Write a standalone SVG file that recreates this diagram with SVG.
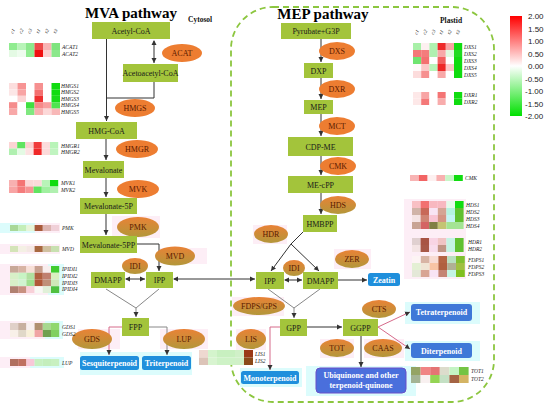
<svg xmlns="http://www.w3.org/2000/svg" width="550" height="412" viewBox="0 0 550 412">
<defs>
<style>
.box{fill:#a3c43b;}
.bt{font-family:"Liberation Serif",serif;font-size:8px;fill:#1a1a1a;text-anchor:middle;}
.en{fill:#ed7d31;}
.eo{fill:url(#olive);}
.et{font-family:"Liberation Serif",serif;font-size:8px;fill:#5a1a00;text-anchor:middle;}
.blue{fill:#1f8fdc;}
.blue2{fill:#3f78d8;}
.wt{font-family:"Liberation Serif",serif;font-size:8px;font-weight:bold;fill:#ffffff;text-anchor:middle;}
.ln{stroke:#333;stroke-width:1;fill:none;}
.lg{stroke:#888;stroke-width:1;fill:none;}
.lp{stroke:#d66a8a;stroke-width:1;fill:none;}
.hl{font-family:"Liberation Serif",serif;font-size:5.5px;font-style:italic;fill:#222;}
.pk{fill:#fdeef6;}
.cy{fill:#dcfcfc;}
.title{font-family:"Liberation Serif",serif;font-size:15px;font-weight:bold;fill:#000;text-anchor:middle;}
.sub{font-family:"Liberation Serif",serif;font-size:7.5px;font-weight:bold;fill:#111;}
.sc{font-family:"Liberation Sans",Arial,sans-serif;font-size:8px;fill:#222;}
.ch{font-family:"Liberation Serif",serif;font-size:5px;font-style:italic;fill:#222;}
</style>
<linearGradient id="olive" x1="0" y1="0" x2="0" y2="1">
<stop offset="0" stop-color="#e98236"/>
<stop offset="1" stop-color="#b3973a"/>
</linearGradient>
<linearGradient id="scale" x1="0" y1="0" x2="0" y2="1">
<stop offset="0" stop-color="#ff0000"/>
<stop offset="0.5" stop-color="#ffffff"/>
<stop offset="1" stop-color="#00e000"/>
</linearGradient>
<marker id="ah" markerWidth="6" markerHeight="6" refX="5" refY="3" orient="auto" markerUnits="userSpaceOnUse">
<path d="M0,0.5 L5,3 L0,5.5 Z" fill="#333"/>
</marker>
<marker id="as" markerWidth="6" markerHeight="6" refX="1" refY="3" orient="auto" markerUnits="userSpaceOnUse">
<path d="M5,0.5 L0,3 L5,5.5 Z" fill="#333"/>
</marker>
</defs>
<rect width="550" height="412" fill="#ffffff"/>

<!-- background highlights -->
<g id="highlights">
<rect class="pk" x="112" y="216" width="48" height="22"/>
<rect class="pk" x="160" y="248" width="47" height="16"/>
<rect class="pk" x="78" y="329" width="42" height="20"/>
<rect class="pk" x="160" y="329" width="48" height="20"/>
<rect class="cy" x="80" y="352" width="112" height="23"/>
<rect class="pk" x="253" y="225" width="34" height="19"/>
<rect class="pk" x="334" y="249" width="37" height="20"/>
<rect class="pk" x="232" y="297" width="52" height="19"/>
<rect class="pk" x="236" y="329" width="30" height="21"/>
<rect class="cy" x="240" y="368" width="62" height="19"/>
<rect class="cy" x="306" y="366" width="110" height="30"/>
<rect class="pk" x="320" y="339" width="34" height="19"/>
<rect class="pk" x="364" y="339" width="40" height="19"/>
<rect class="cy" x="405" y="302" width="75" height="22"/>
<rect class="cy" x="405" y="341" width="75" height="20"/>
<rect class="pk" x="404" y="199" width="62" height="80"/>
<rect class="cy" x="0" y="223" width="35" height="10"/>
<rect class="pk" x="35" y="223" width="25" height="10"/>
<rect class="pk" x="0" y="244" width="60" height="10"/>
<rect class="pk" x="0" y="264" width="60" height="31"/>
<rect class="cy" x="48" y="264" width="16" height="31"/>
<rect class="pk" x="0" y="321" width="60" height="18"/>
<rect class="cy" x="45" y="321" width="18" height="18"/>
<rect class="pk" x="0" y="357" width="60" height="11"/>
<rect class="cy" x="30" y="357" width="34" height="11"/>
</g>

<!-- plastid boundary -->
<rect id="plastid" x="231" y="7" width="263" height="395" rx="42" ry="42" fill="none" stroke="#8cc63f" stroke-width="1.8" stroke-dasharray="6,4"/>

<!-- titles -->
<text class="title" x="131" y="18">MVA pathway</text>
<text class="sub" x="188" y="22">Cytosol</text>
<text class="title" x="323" y="19">MEP pathway</text>
<text class="sub" x="440" y="23">Plastid</text>

<!-- connectors -->
<g id="connectors">
<line class="ln" x1="106.5" y1="39" x2="106.5" y2="121" marker-end="url(#ah)"/>
<line class="ln" x1="154" y1="41" x2="154" y2="63" marker-end="url(#ah)" marker-start="url(#as)"/>
<polyline class="ln" points="154,82 154,98 106.5,98"/>
<line class="ln" x1="106" y1="139" x2="106" y2="160" marker-end="url(#ah)"/>
<line class="ln" x1="106" y1="178" x2="106" y2="197" marker-end="url(#ah)"/>
<line class="ln" x1="106" y1="214" x2="106" y2="235" marker-end="url(#ah)"/>
<polyline class="ln" points="137,244 159,244 159,271" marker-end="url(#ah)"/>
<line class="ln" x1="126" y1="279" x2="145" y2="279" marker-end="url(#ah)" marker-start="url(#as)"/>
<line class="ln" x1="174" y1="279" x2="255" y2="279" marker-end="url(#ah)" marker-start="url(#as)"/>
<polyline class="lg" points="106,289 136,308 159,289"/>
<line class="lg" x1="136" y1="308" x2="136" y2="317" marker-end="url(#ah)"/>
<polyline class="lp" points="122,327 109,327 109,355" marker-end="url(#ah)"/>
<polyline class="lg" points="149,327 167,327 167,355" marker-end="url(#ah)"/>

<line class="ln" x1="321" y1="39" x2="321" y2="62" marker-end="url(#ah)"/>
<line class="ln" x1="321" y1="78" x2="321" y2="99" marker-end="url(#ah)"/>
<line class="ln" x1="321" y1="114" x2="321" y2="136" marker-end="url(#ah)"/>
<line class="ln" x1="321" y1="156" x2="321" y2="175" marker-end="url(#ah)"/>
<line class="ln" x1="321" y1="193" x2="321" y2="214" marker-end="url(#ah)"/>
<polyline class="ln" points="303,232 291,244"/>
<line class="ln" x1="291" y1="244" x2="271" y2="271" marker-end="url(#ah)"/>
<line class="ln" x1="291" y1="244" x2="319" y2="271" marker-end="url(#ah)"/>
<line class="ln" x1="285" y1="280" x2="302" y2="280" marker-end="url(#ah)" marker-start="url(#as)"/>
<line class="ln" x1="338" y1="280" x2="367" y2="280" marker-end="url(#ah)"/>
<polyline class="lg" points="268,289 294,308 320,289"/>
<line class="lg" x1="294" y1="308" x2="294" y2="318" marker-end="url(#ah)"/>
<line class="ln" x1="307" y1="327" x2="342" y2="327" marker-end="url(#ah)"/>
<polyline class="lp" points="280,327 270,327 270,370" marker-end="url(#ah)"/>
<line class="ln" x1="361" y1="336" x2="361" y2="367" marker-end="url(#ah)"/>
<line class="lp" x1="378" y1="327" x2="410" y2="312" marker-end="url(#ah)"/>
<line class="lp" x1="378" y1="327" x2="410" y2="349" marker-end="url(#ah)"/>
</g>

<!-- nodes: MVA -->
<g id="acetylcoa"><rect class="box" x="92" y="22" width="78" height="17"/><text class="bt" x="131" y="33.5">Acetyl-CoA</text></g>
<g id="acetoacetylcoa"><rect class="box" x="123" y="64" width="55" height="18"/><text class="bt" x="150.5" y="76">Acetoacetyl-CoA</text></g>
<g id="acat"><ellipse class="en" cx="182" cy="53" rx="20" ry="9"/><text class="et" x="182" y="56">ACAT</text></g>
<g id="hmgs"><ellipse class="en" cx="135" cy="108" rx="20" ry="9"/><text class="et" x="135" y="111">HMGS</text></g>
<g id="hmgcoa"><rect class="box" x="76" y="122" width="61" height="17"/><text class="bt" x="106.5" y="133.5">HMG-CoA</text></g>
<g id="hmgr"><ellipse class="en" cx="137" cy="149" rx="21" ry="9"/><text class="et" x="137" y="152">HMGR</text></g>
<g id="mevalonate"><rect class="box" x="83" y="161" width="41" height="17"/><text class="bt" x="103.5" y="172.5">Mevalonate</text></g>
<g id="mvk"><ellipse class="en" cx="138" cy="189" rx="21" ry="9"/><text class="et" x="138" y="192">MVK</text></g>
<g id="mev5p"><rect class="box" x="80" y="198" width="57" height="16"/><text class="bt" x="108.5" y="209">Mevalonate-5P</text></g>
<g id="pmk"><ellipse class="eo" cx="138" cy="227" rx="21" ry="10"/><text class="et" x="138" y="230">PMK</text></g>
<g id="mev5pp"><rect class="box" x="80" y="236" width="57" height="17"/><text class="bt" x="108.5" y="247.5">Mevalonate-5PP</text></g>
<g id="mvd"><ellipse class="eo" cx="175" cy="256" rx="20" ry="9.5"/><text class="et" x="175" y="259">MVD</text></g>
<g id="idi1"><ellipse class="eo" cx="135" cy="266" rx="13" ry="8"/><text class="et" x="135" y="269">IDI</text></g>
<g id="dmapp1"><rect class="box" x="91" y="272" width="34" height="16"/><text class="bt" x="108" y="283">DMAPP</text></g>
<g id="ipp1"><rect class="box" x="146" y="272" width="27" height="16"/><text class="bt" x="159.5" y="283">IPP</text></g>
<g id="fpp"><rect class="box" x="122" y="318" width="27" height="18"/><text class="bt" x="135.5" y="330">FPP</text></g>
<g id="gds"><ellipse class="eo" cx="92" cy="339" rx="20" ry="10"/><text class="et" x="92" y="342">GDS</text></g>
<g id="lup"><ellipse class="eo" cx="184" cy="339" rx="21" ry="10"/><text class="et" x="184" y="342">LUP</text></g>
<g id="sesqui"><rect class="blue" x="80" y="356" width="59" height="14" rx="2.5"/><text class="wt" x="109.5" y="366">Sesquiterpenoid</text></g>
<g id="triter"><rect class="blue" x="142" y="356" width="49" height="14" rx="2.5"/><text class="wt" x="166.5" y="366">Triterpenoid</text></g>

<!-- nodes: MEP -->
<g id="pyr"><rect class="box" x="281" y="23" width="70" height="16"/><text class="bt" x="316" y="34">Pyrubate+G3P</text></g>
<g id="dxs"><ellipse class="en" cx="337" cy="51" rx="18" ry="9"/><text class="et" x="337" y="54">DXS</text></g>
<g id="dxp"><rect class="box" x="304" y="63" width="29" height="15"/><text class="bt" x="318.5" y="73.5">DXP</text></g>
<g id="dxr"><ellipse class="en" cx="337" cy="89" rx="18" ry="9"/><text class="et" x="337" y="92">DXR</text></g>
<g id="mep"><rect class="box" x="304" y="100" width="29" height="14"/><text class="bt" x="318.5" y="110">MEP</text></g>
<g id="mct"><ellipse class="en" cx="337" cy="126" rx="18" ry="9"/><text class="et" x="337" y="129">MCT</text></g>
<g id="cdpme"><rect class="box" x="288" y="137" width="65" height="19"/><text class="bt" x="320.5" y="149.5">CDP-ME</text></g>
<g id="cmk"><ellipse class="en" cx="338" cy="166" rx="18" ry="9"/><text class="et" x="338" y="169">CMK</text></g>
<g id="mecpp"><rect class="box" x="288" y="176" width="65" height="17"/><text class="bt" x="320.5" y="187.5">ME-cPP</text></g>
<g id="hds"><ellipse class="eo" cx="338" cy="205" rx="18" ry="9"/><text class="et" x="338" y="208">HDS</text></g>
<g id="hmbpp"><rect class="box" x="303" y="215" width="34" height="17"/><text class="bt" x="320" y="226.5">HMBPP</text></g>
<g id="hdr"><ellipse class="eo" cx="271" cy="234" rx="17" ry="9"/><text class="et" x="271" y="237">HDR</text></g>
<g id="zer"><ellipse class="eo" cx="352" cy="259" rx="17" ry="9"/><text class="et" x="352" y="262">ZER</text></g>
<g id="idi2"><ellipse class="eo" cx="294" cy="268" rx="11" ry="8"/><text class="et" x="294" y="271">IDI</text></g>
<g id="ipp2"><rect class="box" x="256" y="272" width="28" height="17"/><text class="bt" x="270" y="283.5">IPP</text></g>
<g id="dmapp2"><rect class="box" x="303" y="272" width="35" height="17"/><text class="bt" x="320.5" y="283.5">DMAPP</text></g>
<g id="zeatin"><rect class="blue" x="368" y="273" width="32" height="13" rx="2.5"/><text class="wt" x="384" y="282.5">Zeatin</text></g>
<g id="fdps"><ellipse class="eo" cx="259" cy="306" rx="26" ry="9"/><text class="et" x="259" y="309">FDPS/GPS</text></g>
<g id="gpp"><rect class="box" x="280" y="319" width="27" height="17"/><text class="bt" x="293.5" y="330.5">GPP</text></g>
<g id="ggpp"><rect class="box" x="343" y="319" width="35" height="17"/><text class="bt" x="360.5" y="330.5">GGPP</text></g>
<g id="cts"><ellipse class="eo" cx="379" cy="309" rx="17" ry="9"/><text class="et" x="379" y="312">CTS</text></g>
<g id="lis"><ellipse class="eo" cx="251" cy="339" rx="15" ry="10"/><text class="et" x="251" y="342">LIS</text></g>
<g id="tot"><ellipse class="eo" cx="337" cy="348" rx="17" ry="9"/><text class="et" x="337" y="351">TOT</text></g>
<g id="caas"><ellipse class="eo" cx="383" cy="348" rx="19" ry="9"/><text class="et" x="383" y="351">CAAS</text></g>
<g id="mono"><rect class="blue" x="241" y="371" width="58" height="13" rx="2.5"/><text class="wt" x="270" y="380.5">Monoterpenoid</text></g>
<g id="ubiq"><rect x="316" y="368" width="90" height="25" rx="4" fill="#4a6fdc" stroke="#6a4fc8" stroke-width="1"/><text class="wt" x="361" y="378">Ubiquinone and other</text><text class="wt" x="361" y="388">terpenoid-quinone</text></g>
<g id="tetra"><rect class="blue2" x="411" y="304" width="61" height="17" rx="3"/><text class="wt" x="441.5" y="315">Tetraterpenoid</text></g>
<g id="diter"><rect class="blue2" x="411" y="343" width="61" height="15" rx="3"/><text class="wt" x="441.5" y="353.5">Diterpenoid</text></g>

<!-- left heatmaps -->
<g id="hm-left">
<g transform="translate(13,34) rotate(-60)"><text class="ch">c1</text></g>
<g transform="translate(21.5,34) rotate(-60)"><text class="ch">c2</text></g>
<g transform="translate(30,34) rotate(-60)"><text class="ch">c3</text></g>
<g transform="translate(38.5,34) rotate(-60)"><text class="ch">s1</text></g>
<g transform="translate(47,34) rotate(-60)"><text class="ch">s2</text></g>
<g transform="translate(55.5,34) rotate(-60)"><text class="ch">s3</text></g>
<!-- ACAT -->
<rect x="9" y="43" width="8.5" height="7" fill="#90ec90"/><rect x="17.5" y="43" width="8.5" height="7" fill="#b8f4b8"/><rect x="26" y="43" width="8.5" height="7" fill="#8ce88c"/><rect x="34.5" y="43" width="8.5" height="7" fill="#ec4a4a"/><rect x="43" y="43" width="8.5" height="7" fill="#f8b4b4"/><rect x="51.5" y="43" width="8.5" height="7" fill="#7ee47e"/>
<rect x="9" y="50" width="8.5" height="7" fill="#e4fae4"/><rect x="17.5" y="50" width="8.5" height="7" fill="#eefcee"/><rect x="26" y="50" width="8.5" height="7" fill="#90ec90"/><rect x="34.5" y="50" width="8.5" height="7" fill="#f01010"/><rect x="43" y="50" width="8.5" height="7" fill="#fcd0d0"/><rect x="51.5" y="50" width="8.5" height="7" fill="#8ce88c"/>
<text class="hl" x="62" y="48.5">ACAT1</text><text class="hl" x="62" y="55.5">ACAT2</text>
<!-- HMGS -->
<rect x="9" y="83" width="8.5" height="6.4" fill="#fcdede"/><rect x="17.5" y="83" width="8.5" height="6.4" fill="#f79494"/><rect x="26" y="83" width="8.5" height="6.4" fill="#ffffff"/><rect x="34.5" y="83" width="8.5" height="6.4" fill="#f69090"/><rect x="43" y="83" width="8.5" height="6.4" fill="#ffffff"/><rect x="51.5" y="83" width="8.5" height="6.4" fill="#10dc10"/>
<rect x="9" y="89.4" width="8.5" height="6.4" fill="#fce6e6"/><rect x="17.5" y="89.4" width="8.5" height="6.4" fill="#f8a4a4"/><rect x="26" y="89.4" width="8.5" height="6.4" fill="#ffffff"/><rect x="34.5" y="89.4" width="8.5" height="6.4" fill="#f47070"/><rect x="43" y="89.4" width="8.5" height="6.4" fill="#ffffff"/><rect x="51.5" y="89.4" width="8.5" height="6.4" fill="#10dc10"/>
<rect x="9" y="95.8" width="8.5" height="6.4" fill="#ffffff"/><rect x="17.5" y="95.8" width="8.5" height="6.4" fill="#fcd4d4"/><rect x="26" y="95.8" width="8.5" height="6.4" fill="#ffffff"/><rect x="34.5" y="95.8" width="8.5" height="6.4" fill="#ee3030"/><rect x="43" y="95.8" width="8.5" height="6.4" fill="#ffffff"/><rect x="51.5" y="95.8" width="8.5" height="6.4" fill="#18dc18"/>
<rect x="9" y="102.2" width="8.5" height="6.4" fill="#f58c8c"/><rect x="17.5" y="102.2" width="8.5" height="6.4" fill="#ffffff"/><rect x="26" y="102.2" width="8.5" height="6.4" fill="#40e040"/><rect x="34.5" y="102.2" width="8.5" height="6.4" fill="#f68a8a"/><rect x="43" y="102.2" width="8.5" height="6.4" fill="#f8a0a0"/><rect x="51.5" y="102.2" width="8.5" height="6.4" fill="#50e450"/>
<rect x="9" y="108.6" width="8.5" height="6.4" fill="#f8a8a8"/><rect x="17.5" y="108.6" width="8.5" height="6.4" fill="#ffffff"/><rect x="26" y="108.6" width="8.5" height="6.4" fill="#80e880"/><rect x="34.5" y="108.6" width="8.5" height="6.4" fill="#f8b0b0"/><rect x="43" y="108.6" width="8.5" height="6.4" fill="#fcd8d8"/><rect x="51.5" y="108.6" width="8.5" height="6.4" fill="#f8b8b8"/>
<text class="hl" x="61" y="88">HMGS1</text><text class="hl" x="61" y="94.4">HMGS2</text><text class="hl" x="61" y="100.8">HMGS3</text><text class="hl" x="61" y="107.2">HMGS4</text><text class="hl" x="61" y="113.6">HMGS5</text>
<!-- HMGR -->
<rect x="9" y="142" width="8.2" height="6.5" fill="#fcd4d4"/><rect x="17.2" y="142" width="8.2" height="6.5" fill="#60e460"/><rect x="25.4" y="142" width="8.2" height="6.5" fill="#fcd0d0"/><rect x="33.6" y="142" width="8.2" height="6.5" fill="#f03c3c"/><rect x="41.8" y="142" width="8.2" height="6.5" fill="#fcdcdc"/><rect x="50" y="142" width="8.2" height="6.5" fill="#b8f4b8"/>
<rect x="9" y="148.5" width="8.2" height="6.5" fill="#b0f0b0"/><rect x="17.2" y="148.5" width="8.2" height="6.5" fill="#e4fae4"/><rect x="25.4" y="148.5" width="8.2" height="6.5" fill="#fce2e2"/><rect x="33.6" y="148.5" width="8.2" height="6.5" fill="#f02828"/><rect x="41.8" y="148.5" width="8.2" height="6.5" fill="#fcdada"/><rect x="50" y="148.5" width="8.2" height="6.5" fill="#c0f4c0"/>
<text class="hl" x="61" y="147.5">HMGR1</text><text class="hl" x="61" y="154">HMGR2</text>
<!-- MVK -->
<rect x="9" y="180" width="8.2" height="6.5" fill="#f8b0b0"/><rect x="17.2" y="180" width="8.2" height="6.5" fill="#f47474"/><rect x="25.4" y="180" width="8.2" height="6.5" fill="#fcd8d8"/><rect x="33.6" y="180" width="8.2" height="6.5" fill="#fcdada"/><rect x="41.8" y="180" width="8.2" height="6.5" fill="#b8f4b8"/><rect x="50" y="180" width="8.2" height="6.5" fill="#10dc10"/>
<rect x="9" y="186.5" width="8.2" height="6.5" fill="#f8a4a4"/><rect x="17.2" y="186.5" width="8.2" height="6.5" fill="#f47c7c"/><rect x="25.4" y="186.5" width="8.2" height="6.5" fill="#f69494"/><rect x="33.6" y="186.5" width="8.2" height="6.5" fill="#60e460"/><rect x="41.8" y="186.5" width="8.2" height="6.5" fill="#a0f0a0"/><rect x="50" y="186.5" width="8.2" height="6.5" fill="#b0f0b0"/>
<text class="hl" x="61" y="185">MVK1</text><text class="hl" x="61" y="191.5">MVK2</text>
<!-- PMK -->
<rect x="10" y="225" width="8.2" height="6" fill="#a8d898"/><rect x="18.2" y="225" width="8.2" height="6" fill="#c4eeb8"/><rect x="26.4" y="225" width="8.2" height="6" fill="#e8f4d8"/><rect x="34.6" y="225" width="8.2" height="6" fill="#a85a3a"/><rect x="42.8" y="225" width="8.2" height="6" fill="#dcb4b0"/><rect x="51" y="225" width="8.2" height="6" fill="#f0d0d8"/>
<text class="hl" x="62" y="230">PMK</text>
<!-- MVD -->
<rect x="10" y="246" width="8.2" height="6" fill="#d4e4b8"/><rect x="18.2" y="246" width="8.2" height="6" fill="#f4f0e4"/><rect x="26.4" y="246" width="8.2" height="6" fill="#f4e8e4"/><rect x="34.6" y="246" width="8.2" height="6" fill="#a86840"/><rect x="42.8" y="246" width="8.2" height="6" fill="#d0c0a0"/><rect x="51" y="246" width="8.2" height="6" fill="#c8e0b0"/>
<text class="hl" x="62" y="251">MVD</text>
<!-- IPIDI -->
<rect x="10" y="266" width="8.2" height="6.75" fill="#c8a898"/><rect x="18.2" y="266" width="8.2" height="6.75" fill="#d8b4a4"/><rect x="26.4" y="266" width="8.2" height="6.75" fill="#f8e0d8"/><rect x="34.6" y="266" width="8.2" height="6.75" fill="#c8a090"/><rect x="42.8" y="266" width="8.2" height="6.75" fill="#f8eeee"/><rect x="51" y="266" width="8.2" height="6.75" fill="#40cc30"/>
<rect x="10" y="272.75" width="8.2" height="6.75" fill="#d8f0c8"/><rect x="18.2" y="272.75" width="8.2" height="6.75" fill="#c8f4c4"/><rect x="26.4" y="272.75" width="8.2" height="6.75" fill="#b0e0a0"/><rect x="34.6" y="272.75" width="8.2" height="6.75" fill="#b06040"/><rect x="42.8" y="272.75" width="8.2" height="6.75" fill="#c08070"/><rect x="51" y="272.75" width="8.2" height="6.75" fill="#d8f0c0"/>
<rect x="10" y="279.5" width="8.2" height="6.75" fill="#d8f0c8"/><rect x="18.2" y="279.5" width="8.2" height="6.75" fill="#d0f4d0"/><rect x="26.4" y="279.5" width="8.2" height="6.75" fill="#a0e090"/><rect x="34.6" y="279.5" width="8.2" height="6.75" fill="#b05838"/><rect x="42.8" y="279.5" width="8.2" height="6.75" fill="#c09078"/><rect x="51" y="279.5" width="8.2" height="6.75" fill="#d0e8b8"/>
<rect x="10" y="286.25" width="8.2" height="6.75" fill="#b08070"/><rect x="18.2" y="286.25" width="8.2" height="6.75" fill="#c89080"/><rect x="26.4" y="286.25" width="8.2" height="6.75" fill="#f8d0d8"/><rect x="34.6" y="286.25" width="8.2" height="6.75" fill="#f8f8f4"/><rect x="42.8" y="286.25" width="8.2" height="6.75" fill="#e0f0d8"/><rect x="51" y="286.25" width="8.2" height="6.75" fill="#50c040"/>
<text class="hl" x="62" y="271">IPIDI1</text><text class="hl" x="62" y="277.75">IPIDI2</text><text class="hl" x="62" y="284.5">IPIDI3</text><text class="hl" x="62" y="291.25">IPIDI4</text>
<!-- GDS -->
<rect x="10" y="323" width="8.2" height="7" fill="#e0d0c8"/><rect x="18.2" y="323" width="8.2" height="7" fill="#c8b0a0"/><rect x="26.4" y="323" width="8.2" height="7" fill="#f8f0f0"/><rect x="34.6" y="323" width="8.2" height="7" fill="#b09070"/><rect x="42.8" y="323" width="8.2" height="7" fill="#a8d890"/><rect x="51" y="323" width="8.2" height="7" fill="#90d870"/>
<rect x="10" y="330" width="8.2" height="7" fill="#f8f0e8"/><rect x="18.2" y="330" width="8.2" height="7" fill="#e0d8c8"/><rect x="26.4" y="330" width="8.2" height="7" fill="#f8f0d8"/><rect x="34.6" y="330" width="8.2" height="7" fill="#f0a4a4"/><rect x="42.8" y="330" width="8.2" height="7" fill="#70a050"/><rect x="51" y="330" width="8.2" height="7" fill="#80d060"/>
<text class="hl" x="62" y="328.5">GDS1</text><text class="hl" x="62" y="335.5">GDS2</text>
<!-- LUP -->
<rect x="10" y="359" width="8.2" height="7" fill="#b07060"/><rect x="18.2" y="359" width="8.2" height="7" fill="#c07060"/><rect x="26.4" y="359" width="8.2" height="7" fill="#f8c8d8"/><rect x="34.6" y="359" width="8.2" height="7" fill="#c8f0c0"/><rect x="42.8" y="359" width="8.2" height="7" fill="#c4eebc"/><rect x="51" y="359" width="8.2" height="7" fill="#c8f0c0"/>
<text class="hl" x="62" y="364.5">LUP</text>
</g>

<!-- LIS heatmap -->
<g id="hm-lis">
<rect x="199" y="350" width="9" height="7.5" fill="#eed8d0"/><rect x="208" y="350" width="9" height="7.5" fill="#d4f4cc"/><rect x="217" y="350" width="9" height="7.5" fill="#c8f0c0"/><rect x="226" y="350" width="9" height="7.5" fill="#c8f0c0"/><rect x="235" y="350" width="9" height="7.5" fill="#d0f0c8"/><rect x="244" y="350" width="9" height="7.5" fill="#9a3a18"/>
<rect x="199" y="357.5" width="9" height="7.5" fill="#dcc4b8"/><rect x="208" y="357.5" width="9" height="7.5" fill="#d8f4d0"/><rect x="217" y="357.5" width="9" height="7.5" fill="#cef2c6"/><rect x="226" y="357.5" width="9" height="7.5" fill="#cef2c6"/><rect x="235" y="357.5" width="9" height="7.5" fill="#d0f0c8"/><rect x="244" y="357.5" width="9" height="7.5" fill="#8a4a1a"/>
<text class="hl" x="255" y="355.5">LIS1</text><text class="hl" x="255" y="363">LIS2</text>
</g>

<!-- right heatmaps -->
<g id="hm-right">
<g transform="translate(417,35) rotate(-60)"><text class="ch">c1</text></g>
<g transform="translate(425.2,35) rotate(-60)"><text class="ch">c2</text></g>
<g transform="translate(433.4,35) rotate(-60)"><text class="ch">c3</text></g>
<g transform="translate(441.6,35) rotate(-60)"><text class="ch">s1</text></g>
<g transform="translate(449.8,35) rotate(-60)"><text class="ch">s2</text></g>
<g transform="translate(458,35) rotate(-60)"><text class="ch">s3</text></g>
<!-- DXS -->
<rect x="413" y="43" width="8.2" height="7" fill="#a8f0a8"/><rect x="421.2" y="43" width="8.2" height="7" fill="#fdf0f0"/><rect x="429.4" y="43" width="8.2" height="7" fill="#b0f2b0"/><rect x="437.6" y="43" width="8.2" height="7" fill="#ee2a2a"/><rect x="445.8" y="43" width="8.2" height="7" fill="#f8a4a4"/><rect x="454" y="43" width="8.2" height="7" fill="#10dc10"/>
<rect x="413" y="50" width="8.2" height="7" fill="#f47878"/><rect x="421.2" y="50" width="8.2" height="7" fill="#f47c7c"/><rect x="429.4" y="50" width="8.2" height="7" fill="#b0f0b0"/><rect x="437.6" y="50" width="8.2" height="7" fill="#f8a8a8"/><rect x="445.8" y="50" width="8.2" height="7" fill="#e0fae0"/><rect x="454" y="50" width="8.2" height="7" fill="#20dc20"/>
<rect x="413" y="57" width="8.2" height="7" fill="#70e470"/><rect x="421.2" y="57" width="8.2" height="7" fill="#f47070"/><rect x="429.4" y="57" width="8.2" height="7" fill="#ffffff"/><rect x="437.6" y="57" width="8.2" height="7" fill="#f26060"/><rect x="445.8" y="57" width="8.2" height="7" fill="#ffffff"/><rect x="454" y="57" width="8.2" height="7" fill="#10dc10"/>
<rect x="413" y="64" width="8.2" height="7" fill="#fffafa"/><rect x="421.2" y="64" width="8.2" height="7" fill="#fcc8c8"/><rect x="429.4" y="64" width="8.2" height="7" fill="#b8f4b8"/><rect x="437.6" y="64" width="8.2" height="7" fill="#ee2828"/><rect x="445.8" y="64" width="8.2" height="7" fill="#fcc8c8"/><rect x="454" y="64" width="8.2" height="7" fill="#10dc10"/>
<rect x="413" y="71" width="8.2" height="7" fill="#fcdcdc"/><rect x="421.2" y="71" width="8.2" height="7" fill="#f69090"/><rect x="429.4" y="71" width="8.2" height="7" fill="#ffffff"/><rect x="437.6" y="71" width="8.2" height="7" fill="#f8a8a8"/><rect x="445.8" y="71" width="8.2" height="7" fill="#ffffff"/><rect x="454" y="71" width="8.2" height="7" fill="#10dc10"/>
<text class="hl" x="464" y="48.5">DXS1</text><text class="hl" x="464" y="55.5">DXS2</text><text class="hl" x="464" y="62.5">DXS3</text><text class="hl" x="464" y="69.5">DXS4</text><text class="hl" x="464" y="76.5">DXS5</text>
<!-- DXR -->
<rect x="413" y="92" width="8.2" height="6.5" fill="#fde8e8"/><rect x="421.2" y="92" width="8.2" height="6.5" fill="#f8a4a4"/><rect x="429.4" y="92" width="8.2" height="6.5" fill="#ffffff"/><rect x="437.6" y="92" width="8.2" height="6.5" fill="#f47474"/><rect x="445.8" y="92" width="8.2" height="6.5" fill="#ffffff"/><rect x="454" y="92" width="8.2" height="6.5" fill="#10dc10"/>
<rect x="413" y="98.5" width="8.2" height="6.5" fill="#fde8e8"/><rect x="421.2" y="98.5" width="8.2" height="6.5" fill="#f47878"/><rect x="429.4" y="98.5" width="8.2" height="6.5" fill="#ffffff"/><rect x="437.6" y="98.5" width="8.2" height="6.5" fill="#f8acac"/><rect x="445.8" y="98.5" width="8.2" height="6.5" fill="#ffffff"/><rect x="454" y="98.5" width="8.2" height="6.5" fill="#10dc10"/>
<text class="hl" x="464" y="97">DXR1</text><text class="hl" x="464" y="103.5">DXR2</text>
<!-- CMK -->
<rect x="410" y="175" width="8.8" height="6" fill="#f8b4b4"/><rect x="418.8" y="175" width="8.8" height="6" fill="#f26464"/><rect x="427.6" y="175" width="8.8" height="6" fill="#fdf0f0"/><rect x="436.4" y="175" width="8.8" height="6" fill="#f8b0b0"/><rect x="445.2" y="175" width="8.8" height="6" fill="#c8f6c8"/><rect x="454" y="175" width="8.8" height="6" fill="#10dc10"/>
<text class="hl" x="465" y="180">CMK</text>
<!-- HDS -->
<rect x="412" y="201" width="8.6" height="7" fill="#f8c0c4"/><rect x="420.6" y="201" width="8.6" height="7" fill="#f27070"/><rect x="429.2" y="201" width="8.6" height="7" fill="#f8b8c0"/><rect x="437.8" y="201" width="8.6" height="7" fill="#f8b8c0"/><rect x="446.4" y="201" width="8.6" height="7" fill="#e4faea"/><rect x="455" y="201" width="8.6" height="7" fill="#10dc10"/>
<rect x="412" y="208" width="8.6" height="7" fill="#d0b4a8"/><rect x="420.6" y="208" width="8.6" height="7" fill="#c86858"/><rect x="429.2" y="208" width="8.6" height="7" fill="#f8e4f4"/><rect x="437.8" y="208" width="8.6" height="7" fill="#d4a494"/><rect x="446.4" y="208" width="8.6" height="7" fill="#b4f4e0"/><rect x="455" y="208" width="8.6" height="7" fill="#60c030"/>
<rect x="412" y="215" width="8.6" height="7" fill="#f4e4e4"/><rect x="420.6" y="215" width="8.6" height="7" fill="#d08474"/><rect x="429.2" y="215" width="8.6" height="7" fill="#f8c4d4"/><rect x="437.8" y="215" width="8.6" height="7" fill="#d49484"/><rect x="446.4" y="215" width="8.6" height="7" fill="#c4f4f4"/><rect x="455" y="215" width="8.6" height="7" fill="#60c030"/>
<rect x="412" y="222" width="8.6" height="7" fill="#c8a494"/><rect x="420.6" y="222" width="8.6" height="7" fill="#d46464"/><rect x="429.2" y="222" width="8.6" height="7" fill="#808044"/><rect x="437.8" y="222" width="8.6" height="7" fill="#c4c474"/><rect x="446.4" y="222" width="8.6" height="7" fill="#a4e494"/><rect x="455" y="222" width="8.6" height="7" fill="#a4e494"/>
<text class="hl" x="466" y="206.5">HDS1</text><text class="hl" x="466" y="213.5">HDS2</text><text class="hl" x="466" y="220.5">HDS3</text><text class="hl" x="466" y="227.5">HDS4</text>
<!-- HDR -->
<rect x="412" y="238" width="8.6" height="7" fill="#e0d0d0"/><rect x="420.6" y="238" width="8.6" height="7" fill="#a85444"/><rect x="429.2" y="238" width="8.6" height="7" fill="#f8d4e4"/><rect x="437.8" y="238" width="8.6" height="7" fill="#f0c4c4"/><rect x="446.4" y="238" width="8.6" height="7" fill="#c4f4e4"/><rect x="455" y="238" width="8.6" height="7" fill="#60c030"/>
<rect x="412" y="245" width="8.6" height="7" fill="#f4e4e4"/><rect x="420.6" y="245" width="8.6" height="7" fill="#a85848"/><rect x="429.2" y="245" width="8.6" height="7" fill="#f8dcec"/><rect x="437.8" y="245" width="8.6" height="7" fill="#c09484"/><rect x="446.4" y="245" width="8.6" height="7" fill="#c4f4e4"/><rect x="455" y="245" width="8.6" height="7" fill="#60c030"/>
<text class="hl" x="468" y="243.5">HDR1</text><text class="hl" x="468" y="250.5">HDR2</text>
<!-- FDPS -->
<rect x="412" y="256" width="8.8" height="7" fill="#fdf4f4"/><rect x="420.8" y="256" width="8.8" height="7" fill="#d8b4a4"/><rect x="429.6" y="256" width="8.8" height="7" fill="#f8dcd4"/><rect x="438.4" y="256" width="8.8" height="7" fill="#b46444"/><rect x="447.2" y="256" width="8.8" height="7" fill="#b8e0c0"/><rect x="456" y="256" width="8.8" height="7" fill="#80c030"/>
<rect x="412" y="263" width="8.8" height="7" fill="#e4f0d4"/><rect x="420.8" y="263" width="8.8" height="7" fill="#f0e4d4"/><rect x="429.6" y="263" width="8.8" height="7" fill="#f8c4a4"/><rect x="438.4" y="263" width="8.8" height="7" fill="#b06040"/><rect x="447.2" y="263" width="8.8" height="7" fill="#b0b094"/><rect x="456" y="263" width="8.8" height="7" fill="#a0c040"/>
<rect x="412" y="270" width="8.8" height="7" fill="#e4e8d8"/><rect x="420.8" y="270" width="8.8" height="7" fill="#d8a494"/><rect x="429.6" y="270" width="8.8" height="7" fill="#f8e4f4"/><rect x="438.4" y="270" width="8.8" height="7" fill="#c48474"/><rect x="447.2" y="270" width="8.8" height="7" fill="#c4f4e4"/><rect x="456" y="270" width="8.8" height="7" fill="#80c020"/>
<text class="hl" x="468" y="261.5">FDPS1</text><text class="hl" x="468" y="268.5">FDPS2</text><text class="hl" x="468" y="275.5">FDPS3</text>
<!-- TOT -->
<rect x="411" y="367" width="9.6" height="8" fill="#94a464"/><rect x="420.6" y="367" width="9.6" height="8" fill="#f08484"/><rect x="430.2" y="367" width="9.6" height="8" fill="#e47474"/><rect x="439.8" y="367" width="9.6" height="8" fill="#dcdccc"/><rect x="449.4" y="367" width="9.6" height="8" fill="#c4f4c4"/><rect x="459" y="367" width="9.6" height="8" fill="#74c444"/>
<rect x="411" y="375" width="9.6" height="8" fill="#a4b494"/><rect x="420.6" y="375" width="9.6" height="8" fill="#f8f0f0"/><rect x="430.2" y="375" width="9.6" height="8" fill="#94d454"/><rect x="439.8" y="375" width="9.6" height="8" fill="#c4e0c4"/><rect x="449.4" y="375" width="9.6" height="8" fill="#a46444"/><rect x="459" y="375" width="9.6" height="8" fill="#d4b464"/>
<text class="hl" x="471" y="373">TOT1</text><text class="hl" x="471" y="381">TOT2</text>
</g>

<!-- color scale -->
<g id="legend">
<rect x="510" y="16" width="12" height="100" fill="url(#scale)"/>
<text class="sc" x="528" y="19">2.00</text>
<text class="sc" x="528" y="31.5">1.50</text>
<text class="sc" x="528" y="44">1.00</text>
<text class="sc" x="528" y="56.5">0.50</text>
<text class="sc" x="528" y="69">0.00</text>
<text class="sc" x="525" y="81.5">-0.50</text>
<text class="sc" x="525" y="94">-1.00</text>
<text class="sc" x="525" y="106.5">-1.50</text>
<text class="sc" x="525" y="119">-2.00</text>
</g>
</svg>
